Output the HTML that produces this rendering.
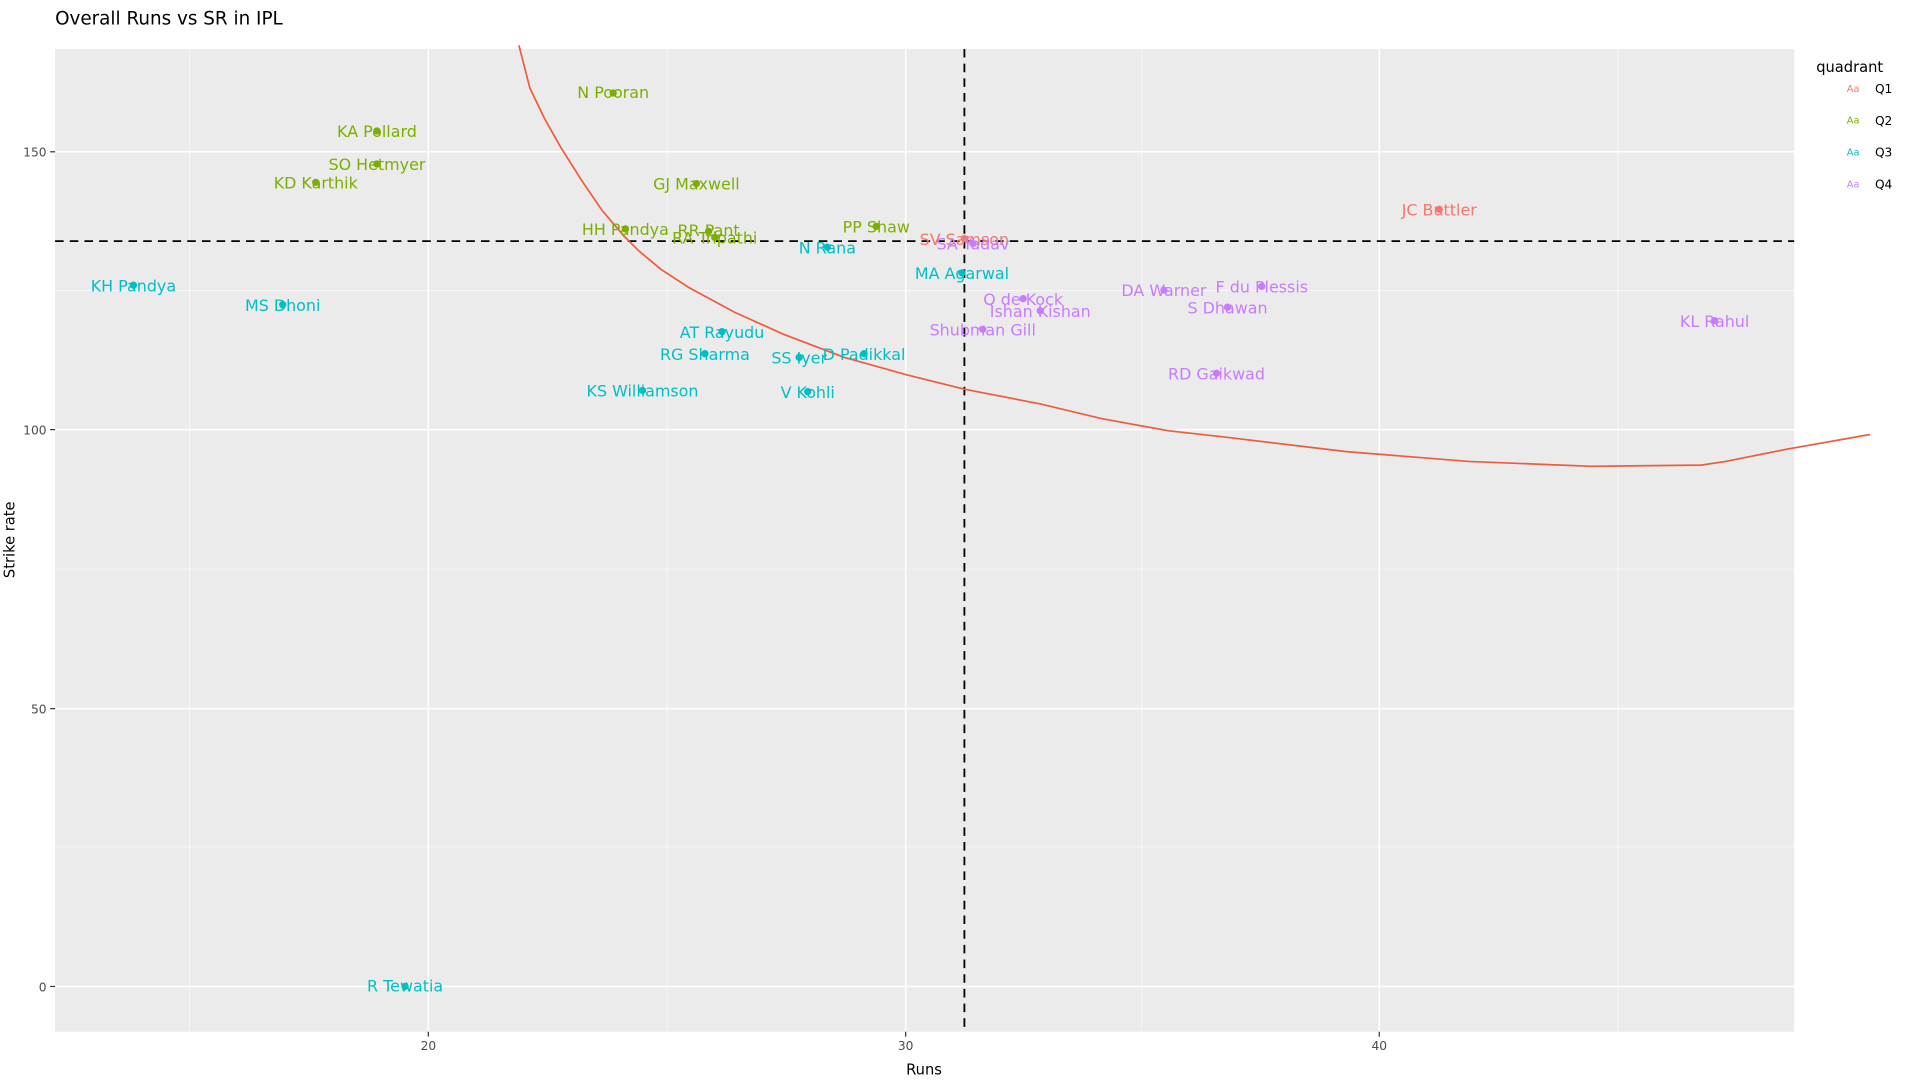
<!DOCTYPE html>
<html><head><meta charset="utf-8"><style>
html,body{margin:0;padding:0;background:#fff;}
svg{display:block;font-family:"DejaVu Sans","Liberation Sans",sans-serif;}
</style></head><body>
<svg width="1919" height="1080" viewBox="0 0 1568 882.4" xmlns="http://www.w3.org/2000/svg">
<rect width="1568" height="883" fill="#fff"/>
<text x="45" y="20" font-size="15" fill="#000">Overall Runs vs SR in IPL</text>
<rect x="45" y="40" width="1421" height="803" fill="#EBEBEB"/>
<g stroke="#fff" stroke-width="0.5">
<line x1="155" y1="40" x2="155" y2="843"/><line x1="545" y1="40" x2="545" y2="843"/>
<line x1="933" y1="40" x2="933" y2="843"/><line x1="1322" y1="40" x2="1322" y2="843"/>
<line x1="45" y1="237.5" x2="1466" y2="237.5"/><line x1="45" y1="465" x2="1466" y2="465"/>
<line x1="45" y1="692" x2="1466" y2="692"/>
</g>
<g stroke="#fff" stroke-width="1.2">
<line x1="350" y1="40" x2="350" y2="843"/><line x1="740" y1="40" x2="740" y2="843"/>
<line x1="1127" y1="40" x2="1127" y2="843"/>
<line x1="45" y1="124" x2="1466" y2="124"/><line x1="45" y1="351" x2="1466" y2="351"/>
<line x1="45" y1="579" x2="1466" y2="579"/><line x1="45" y1="806" x2="1466" y2="806"/>
</g>
<g stroke="#333" stroke-width="1">
<line x1="41" y1="124" x2="45" y2="124"/><line x1="41" y1="351" x2="45" y2="351"/>
<line x1="41" y1="579" x2="45" y2="579"/><line x1="41" y1="806" x2="45" y2="806"/>
<line x1="350" y1="843" x2="350" y2="847"/><line x1="740" y1="843" x2="740" y2="847"/>
<line x1="1127" y1="843" x2="1127" y2="847"/>
</g>
<g font-size="10" fill="#4D4D4D">
<text x="38" y="128" text-anchor="end">150</text><text x="38" y="355" text-anchor="end">100</text>
<text x="38" y="583" text-anchor="end">50</text><text x="38" y="810" text-anchor="end">0</text>
<text x="350" y="858" text-anchor="middle">20</text><text x="740" y="858" text-anchor="middle">30</text>
<text x="1127" y="858" text-anchor="middle">40</text>
</g>
<text x="755" y="878" font-size="12" text-anchor="middle">Runs</text>
<text transform="translate(12,441) rotate(-90)" font-size="12" text-anchor="middle">Strike rate</text>
<g stroke="#000" stroke-width="1.5" stroke-dasharray="7,5">
<line x1="788" y1="40" x2="788" y2="843"/><line x1="45" y1="197" x2="1466" y2="197"/>
</g>
<polyline fill="none" stroke="#F25A3C" stroke-width="1.4" points="424,37 433,72 445,97 458,120 475,147 492,172 510,193 522,205 540,220 563,235 600,255 640,273 690,292 740,306 788,318 850,330 900,342 955,352 1000,357 1100,369 1200,377 1300,381 1390,380 1410,377 1460,367 1528,355"/>
<g font-size="13" text-anchor="middle">
<g fill="#7CAE00">
<circle cx="501" cy="76" r="3"/><text x="501" y="80">N Pooran</text>
<circle cx="308" cy="107" r="3"/><text x="308" y="112">KA Pollard</text>
<circle cx="308" cy="134" r="3"/><text x="308" y="139">SO Hetmyer</text>
<circle cx="258" cy="149" r="3"/><text x="258" y="154">KD Karthik</text>
<circle cx="569" cy="150" r="3"/><text x="569" y="155">GJ Maxwell</text>
<circle cx="716" cy="185" r="3"/><text x="716" y="190">PP Shaw</text>
<circle cx="511" cy="187" r="3"/><text x="511" y="192">HH Pandya</text>
<circle cx="579" cy="189" r="3"/><text x="579" y="193">RR Pant</text>
<circle cx="584" cy="194" r="3"/><text x="584" y="199">RA Tripathi</text>
</g>
<g fill="#F8766D">
<circle cx="788" cy="195" r="3"/><text x="788" y="200">SV Samson</text>
<circle cx="1176" cy="171" r="3"/><text x="1176" y="176">JC Buttler</text>
</g>
<g fill="#00BFC4">
<circle cx="676" cy="202" r="3"/><text x="676" y="207">N Rana</text>
<circle cx="786" cy="223" r="3"/><text x="786" y="228">MA Agarwal</text>
<circle cx="109" cy="233" r="3"/><text x="109" y="238">KH Pandya</text>
<circle cx="231" cy="249" r="3"/><text x="231" y="254">MS Dhoni</text>
<circle cx="590" cy="271" r="3"/><text x="590" y="276">AT Rayudu</text>
<circle cx="576" cy="289" r="3"/><text x="576" y="294">RG Sharma</text>
<circle cx="653" cy="292" r="3"/><text x="653" y="297">SS Iyer</text>
<circle cx="706" cy="289" r="3"/><text x="706" y="294">D Padikkal</text>
<circle cx="525" cy="319" r="3"/><text x="525" y="324">KS Williamson</text>
<circle cx="660" cy="320" r="3"/><text x="660" y="325">V Kohli</text>
<circle cx="331" cy="806" r="3"/><text x="331" y="810">R Tewatia</text>
</g>
<g fill="#C77CFF">
<circle cx="795" cy="199" r="3"/><text x="795" y="204">SA Yadav</text>
<circle cx="836" cy="244" r="3"/><text x="836" y="249">Q de Kock</text>
<circle cx="850" cy="254" r="3"/><text x="850" y="259">Ishan Kishan</text>
<circle cx="803" cy="269" r="3"/><text x="803" y="274">Shubman Gill</text>
<circle cx="951" cy="237" r="3"/><text x="951" y="242">DA Warner</text>
<circle cx="1031" cy="234" r="3"/><text x="1031" y="239">F du Plessis</text>
<circle cx="1003" cy="251" r="3"/><text x="1003" y="256">S Dhawan</text>
<circle cx="1401" cy="262" r="3"/><text x="1401" y="267">KL Rahul</text>
<circle cx="994" cy="305" r="3"/><text x="994" y="310">RD Gaikwad</text>
</g>
</g>
<text x="1484" y="59" font-size="12">quadrant</text>
<g font-size="8"><text x="1509" y="75" fill="#F8766D">Aa</text><text x="1509" y="101" fill="#7CAE00">Aa</text>
<text x="1509" y="127" fill="#00BFC4">Aa</text><text x="1509" y="153" fill="#C77CFF">Aa</text></g>
<g font-size="10"><text x="1532" y="76">Q1</text><text x="1532" y="102">Q2</text><text x="1532" y="128">Q3</text><text x="1532" y="154">Q4</text></g>
</svg>
</body></html>
